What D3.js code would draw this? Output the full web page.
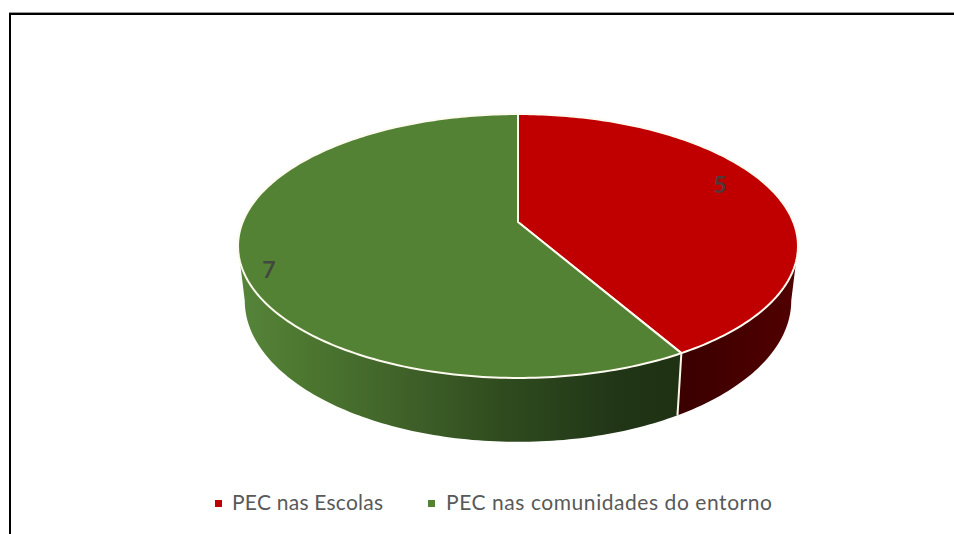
<!DOCTYPE html>
<html>
<head>
<meta charset="utf-8">
<script src="https://cdn.jsdelivr.net/npm/d3@7"></script>
<style>
html,body{margin:0;padding:0;background:#fff;overflow:hidden}
svg{display:block}
</style>
</head>
<body>
<svg id="chart" width="954" height="534"></svg>
<script>
const categories = ["PEC nas Escolas", "PEC nas comunidades do entorno"];
const values = [5, 7];
const topColors = ["#C00000", "#548235"];

const svg = d3.select("#chart");
const defs = svg.append("defs");

// Frame: only the top and left rules are drawn
svg.append("rect").attr("x", 9).attr("y", 12).attr("width", 945).attr("height", 1).attr("fill", "#9a9a9a");
svg.append("rect").attr("x", 9).attr("y", 13).attr("width", 945).attr("height", 2).attr("fill", "#000");
svg.append("rect").attr("x", 9).attr("y", 13).attr("width", 2).attr("height", 521).attr("fill", "#000");

// Tilted disc: a perspective projection of the unit circle
const cx = 518, cy = 222, radiusX = 275.3, radiusY = 127.6, persp = 0.1818;
const thickness = 53, bottomScaleX = 0.976, bottomScaleY = 1.07;

function project(angle, r, drop) {
  const sx = Math.sin(angle) * r, sy = -Math.cos(angle) * r;
  const w = 1 - persp * sy;
  const scaleX = drop ? bottomScaleX : 1, scaleY = drop ? bottomScaleY : 1;
  return [cx + scaleX * radiusX * sx / w, cy + scaleY * radiusY * sy / w + (drop ? thickness : 0)];
}

const arcs = d3.pie().sort(null).value(d => d)(values);
const line = d3.line();
const step = Math.PI / 180;
const samples = (a0, a1) => d3.range(a0, a1, step).concat([a1]);

// Side wall gradients
const wallStops = [
  [[0, "#3a0000"], [1, "#520000"]],
  [[0, "#56853a"], [0.12, "#4e7a31"], [0.35, "#41642a"], [0.6, "#2f4b1e"], [0.85, "#213617"], [1, "#1e3213"]]
];
const wallBounds = [[678, 800], [238, 682]];
wallStops.forEach((stops, i) => {
  const g = defs.append("linearGradient").attr("id", "wall" + i)
    .attr("gradientUnits", "userSpaceOnUse")
    .attr("x1", wallBounds[i][0]).attr("x2", wallBounds[i][1])
    .attr("y1", 0).attr("y2", 0);
  stops.forEach(s => g.append("stop").attr("offset", s[0]).attr("stop-color", s[1]));
});

// Walls run between the left and right extremes of the projected rim
const rimStart = Math.acos(-persp), rimEnd = 2 * Math.PI - rimStart;
arcs.forEach((a, i) => {
  const a0 = Math.max(a.startAngle, rimStart), a1 = Math.min(a.endAngle, rimEnd);
  const angles = samples(a0, a1);
  const pts = angles.map(t => project(t, 1, false))
    .concat(angles.slice().reverse().map(t => project(t, 1, true)));
  svg.append("path").attr("d", line(pts) + "Z").attr("fill", `url(#wall${i})`);
});

// Seam between the two walls
const seam = arcs[0].endAngle;
svg.append("path")
  .attr("d", line([project(seam, 1, false), project(seam, 1, true)]))
  .attr("stroke", "#fbf6ea").attr("stroke-width", 2).attr("fill", "none");

// Top faces
arcs.forEach((a, i) => {
  const pts = [project(0, 0, false)].concat(samples(a.startAngle, a.endAngle).map(t => project(t, 1, false)));
  svg.append("path").attr("d", line(pts) + "Z")
    .attr("fill", topColors[i])
    .attr("stroke", "#fdfaf0").attr("stroke-width", 2).attr("stroke-linejoin", "round");
});

// Value labels
const labelPos = [[720, 193], [269, 278]];
svg.selectAll("text.value").data(values).join("text")
  .attr("class", "value")
  .attr("x", (d, i) => labelPos[i][0]).attr("y", (d, i) => labelPos[i][1])
  .attr("text-anchor", "middle")
  .attr("font-family", "Lato, sans-serif").attr("font-size", 23).attr("font-weight", 700)
  .attr("fill", "#404040").attr("fill-opacity", 0.9)
  .text(d => d);

// Legend
const legendMarkX = [215, 428], legendTextX = [232, 446], legendTextLen = [151, 326];
categories.forEach((c, i) => {
  svg.append("rect").attr("x", legendMarkX[i]).attr("y", 500).attr("width", 7).attr("height", 7).attr("fill", topColors[i]);
  svg.append("text").attr("x", legendTextX[i]).attr("y", 510)
    .attr("font-family", "Lato, sans-serif").attr("font-size", 21)
    .attr("textLength", legendTextLen[i]).attr("lengthAdjust", "spacing")
    .attr("fill", "#595959").text(c);
});
</script>
</body>
</html>
